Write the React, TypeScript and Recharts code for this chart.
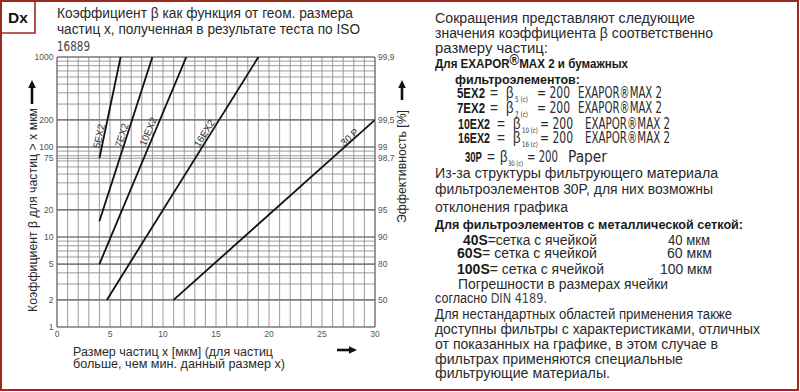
import React from 'react';
import { LineChart, Line, XAxis, YAxis, CartesianGrid, ReferenceLine, ReferenceDot } from 'recharts';

// ---- data ----
const seriesNames = ['5EX2', '7EX2', '10EX2', '16EX2', '30 P'];
const sizes5EX2 = [4, 6];
const beta5EX2 = [75, 1000];
const sizes7EX2 = [4, 9];
const beta7EX2 = [15, 1000];
const sizes10EX2 = [4, 12.2];
const beta10EX2 = [5, 1000];
const sizes16EX2 = [4.7, 19];
const beta16EX2 = [2, 1000];
const sizes30P = [11, 30];
const beta30P = [2, 200];

const xTicks = [0, 1, 2, 3, 4, 5, 6, 7, 8, 9, 10, 11, 12, 13, 14, 15, 16, 17, 18, 19, 20, 21, 22, 23, 24, 25, 26, 27, 28, 29, 30];
const xLabelTicks = [0, 5, 10, 15, 20, 25, 30];
const yGridTicks = [1, 2, 3, 4, 5, 6, 7, 8, 9, 10, 20, 30, 40, 50, 60, 70, 75, 80, 90, 100, 200, 300, 400, 500, 600, 700, 800, 900, 1000];
const yLabelTicks = [1, 2, 5, 10, 20, 75, 100, 200, 1000];
const yMajorLines = [2, 5, 10, 20, 100, 200];
const efficiencyTicks = [2, 5, 10, 20, 75, 100, 200, 1000];
const efficiencyLabels = ['50', '80', '90', '95', '98,7', '99', '99,5', '99,9'];

const labelSizes = [3.95, 6.1, 8.6, 13.9, 27.6];
const labelBetas = [132, 135, 148, 142, 128];
const labelAngles = [-78, -72, -67, -58, -42];

const seriesSizes = [sizes5EX2, sizes7EX2, sizes10EX2, sizes16EX2, sizes30P];
const seriesBetas = [beta5EX2, beta7EX2, beta10EX2, beta16EX2, beta30P];

const series = seriesNames.map((name, i) => ({
  name,
  data: seriesSizes[i].map((x, j) => ({ x, beta: seriesBetas[i][j] })),
}));

// ---- styles ----
const SANS = "'Liberation Sans', Arial, Helvetica, sans-serif";
const NARROW = "'Liberation Sans Narrow', 'DejaVu Sans Condensed', 'Liberation Sans', sans-serif";
const RED = '#9e2a1e';
const TXT = '#2a2a2a';
const TICK = { fontSize: 8.5, fill: '#555', fontFamily: SANS };

const Line1 = ({ x, y, len, children, size = 14, weight = 400, family = SANS, fill = TXT }: any) => (
  <text x={x} y={y} fontSize={size} fontWeight={weight} fontFamily={family} fill={fill}
    textLength={len} lengthAdjust="spacingAndGlyphs">{children}</text>
);

const Formula = ({ y, label, lx, ll, eq1, bx, sub, sx, sl, eq2, el, ex, tail, tl }: any) => (
  <g fontFamily={NARROW} fill={TXT}>
    <text x={lx} y={y} fontSize={15.5} fontWeight={700} fontFamily={SANS} fill="#1a1a1a"
      textLength={ll} lengthAdjust="spacingAndGlyphs">{label}</text>
    <text x={eq1} y={y} fontSize={15} fontFamily={SANS} textLength={8} lengthAdjust="spacingAndGlyphs">=</text>
    <text x={bx} y={y} fontSize={16.5} fontFamily={SANS} textLength={7.5} lengthAdjust="spacingAndGlyphs">β</text>
    <text x={sx} y={y + 4} fontSize={7.5} textLength={sl} lengthAdjust="spacingAndGlyphs">{sub}</text>
    <text x={eq2} y={y} fontSize={16} textLength={el} lengthAdjust="spacingAndGlyphs">= 200</text>
    <text x={ex} y={y} fontSize={16} textLength={tl} lengthAdjust="spacingAndGlyphs">{tail}</text>
  </g>
);

const ArrowUp = ({ x, yTop, yBottom }: any) => (
  <g fill="#111">
    <rect x={x - 1.3} y={yTop + 6} width={2.6} height={yBottom - yTop - 6} />
    <path d={`M ${x - 3.8} ${yTop + 8} L ${x} ${yTop} L ${x + 3.8} ${yTop + 8} Z`} />
  </g>
);

const ArrowRight = ({ y, xLeft, xRight }: any) => (
  <g fill="#111">
    <rect x={xLeft} y={y - 1.3} width={xRight - xLeft - 6} height={2.6} />
    <path d={`M ${xRight - 8} ${y - 3.8} L ${xRight} ${y} L ${xRight - 8} ${y + 3.8} Z`} />
  </g>
);

export default function App() {
  return (
    <div style={{ position: 'absolute', left: 0, top: 0, width: 800, height: 392, background: '#fff' }}>
      <LineChart width={800} height={392} margin={{ top: 57, right: 400, bottom: 45, left: 0 }}>
        <CartesianGrid stroke="#8f8f8f" strokeWidth={0.9} />
        <XAxis
          type="number"
          dataKey="x"
          domain={[0, 30]}
          ticks={xTicks}
          interval={0}
          allowDataOverflow
          height={20}
          tickLine={false}
          tickSize={2}
          tickMargin={2}
          axisLine={{ stroke: '#666' }}
          tick={TICK}
          tickFormatter={(v: number) => (xLabelTicks.includes(v) ? String(v) : '')}
        />
        <YAxis
          type="number"
          scale="log"
          domain={[1, 1000]}
          ticks={yGridTicks}
          interval={0}
          allowDataOverflow
          width={57}
          tickLine={false}
          tickSize={2}
          tickMargin={1.5}
          axisLine={{ stroke: '#666' }}
          tick={TICK}
          tickFormatter={(v: number) => (yLabelTicks.includes(v) ? String(v) : '')}
        />
        <YAxis
          yAxisId="eff"
          orientation="right"
          type="number"
          scale="log"
          domain={[1, 1000]}
          ticks={efficiencyTicks}
          interval={0}
          allowDataOverflow
          width={25}
          tickLine={false}
          tickSize={2}
          tickMargin={1}
          axisLine={{ stroke: '#666' }}
          tick={TICK}
          tickFormatter={(v: number) => efficiencyLabels[efficiencyTicks.indexOf(v)] ?? ''}
        />
        {yMajorLines.map((v) => (
          <ReferenceLine key={v} y={v} stroke="#6a6a6a" strokeWidth={1.1} />
        ))}
        <ReferenceLine y={1000} stroke="#666" strokeWidth={1} />
        {series.map((s) => (
          <Line
            key={s.name}
            data={s.data}
            dataKey="beta"
            name={s.name}
            stroke="#111"
            strokeWidth={1.8}
            dot={false}
            activeDot={false}
            isAnimationActive={false}
            type="linear"
          />
        ))}
        {seriesNames.map((name, i) => (
          <ReferenceDot
            key={'lbl' + name}
            x={labelSizes[i]}
            y={labelBetas[i]}
            r={0}
            shape={(p: any) => (
              <text
                x={p.cx}
                y={p.cy}
                transform={`rotate(${labelAngles[i]}, ${p.cx}, ${p.cy})`}
                textAnchor="middle"
                dominantBaseline="central"
                fontSize={10}
                fontFamily={SANS}
                fill="#333"
              >
                {name}
              </text>
            )}
          />
        ))}
      </LineChart>

      <svg width={800} height={392} style={{ position: 'absolute', left: 0, top: 0, pointerEvents: 'none' }}>
        {/* frame */}
        <rect x={1} y={1} width={797} height={389} fill="none" stroke={RED} strokeWidth={2} />
        <path d="M 35 0 L 35 33 L 0 33" fill="none" stroke={RED} strokeWidth={1.6} />
        <text x={8} y={22.5} fontSize={15.5} fontWeight={700} fontFamily={SANS} fill="#111">Dx</text>

        {/* chart title */}
        <Line1 x={57} y={18} len={296}>Коэффициент β как функция от геом. размера</Line1>
        <Line1 x={57} y={34} len={303}>частиц x, полученная в результате теста по ISO</Line1>
        <Line1 x={57} y={51} len={33} family={NARROW} fill="#444">16889</Line1>

        {/* y axis label */}
        <g transform="translate(36.5, 210) rotate(-90)">
          <text x={0} y={0} textAnchor="middle" fontSize={12.5} fontFamily={SANS} fill={TXT}
            textLength={204} lengthAdjust="spacingAndGlyphs">Коэффициент β для частиц &gt; x мкм</text>
        </g>
        <ArrowUp x={32} yTop={80} yBottom={104} />

        {/* right axis label */}
        <g transform="translate(406, 166.5) rotate(-90)">
          <text x={0} y={0} textAnchor="middle" fontSize={12.5} fontFamily={SANS} fill={TXT}
            textLength={113} lengthAdjust="spacingAndGlyphs">Эффективность [%]</text>
        </g>
        <ArrowUp x={402} yTop={80} yBottom={100} />

        {/* x axis label */}
        <Line1 x={73} y={355.5} len={200} size={12.5}>Размер частиц x [мкм] (для частиц</Line1>
        <Line1 x={73} y={368} len={212} size={12.5}>больше, чем мин. данный размер  x)</Line1>
        <ArrowRight y={350} xLeft={337} xRight={357} />

        {/* right text block */}
        <Line1 x={435} y={23} len={260}>Сокращения представляют следующие</Line1>
        <Line1 x={435} y={38} len={278}>значения коэффициента β соответственно</Line1>
        <Line1 x={435} y={53} len={113}>размеру частиц:</Line1>
        <text x={435} y={67.5} fontSize={12.5} fontWeight={700} fontFamily={SANS} fill="#1a1a1a"
          textLength={193} lengthAdjust="spacingAndGlyphs">
          Для EXAPOR<tspan fontSize={14} dy={-3}>®</tspan><tspan dy={3}>MAX 2 и бумажных</tspan>
        </text>
        <Line1 x={455} y={83.5} len={125} size={12.5} weight={700} fill="#1a1a1a">фильтроэлементов:</Line1>

        <Formula y={97.5} label="5EX2" lx={457} ll={28} eq1={490} bx={506} sub="5 (c)" sx={515} sl={13} eq2={537} el={33} ex={578} tail="EXAPOR®MAX 2" tl={84} />
        <Formula y={112.5} label="7EX2" lx={457} ll={28} eq1={490} bx={506} sub="7 (c)" sx={515} sl={13} eq2={537} el={33} ex={578} tail="EXAPOR®MAX 2" tl={84} />
        <Formula y={128.5} label="10EX2" lx={458} ll={32} eq1={497} bx={513} sub="10 (c)" sx={522} sl={16} eq2={540} el={33} ex={585} tail="EXAPOR®MAX 2" tl={85} />
        <Formula y={142.5} label="16EX2" lx={458} ll={32} eq1={497} bx={513} sub="16 (c)" sx={522} sl={16} eq2={540} el={33} ex={585} tail="EXAPOR®MAX 2" tl={85} />
        <Formula y={162} label="30P" lx={465} ll={17} eq1={487} bx={500} sub="30 (c)" sx={508} sl={15} eq2={527} el={31} ex={568} tail="Paper" tl={39} />

        <Line1 x={435} y={178} len={283}>Из-за структуры фильтрующего материала</Line1>
        <Line1 x={435} y={194} len={278}>фильтроэлементов 30P, для них возможны</Line1>
        <Line1 x={435} y={212} len={133}>отклонения графика</Line1>
        <Line1 x={435} y={228.5} len={308} size={12.5} weight={700} fill="#1a1a1a">Для фильтроэлементов с металлической сеткой:</Line1>

        <text x={463} y={245} fontSize={14} fontFamily={SANS} fill={TXT} textLength={134} lengthAdjust="spacingAndGlyphs">
          <tspan fontWeight={700} fill="#1a1a1a">40S</tspan>=сетка с ячейкой
        </text>
        <Line1 x={668} y={245} len={42}>40 мкм</Line1>
        <text x={457} y={258} fontSize={14} fontFamily={SANS} fill={TXT} textLength={140} lengthAdjust="spacingAndGlyphs">
          <tspan fontWeight={700} fill="#1a1a1a">60S</tspan>= сетка с ячейкой
        </text>
        <Line1 x={667} y={258} len={45}>60 мкм</Line1>
        <text x={457} y={274} fontSize={14} fontFamily={SANS} fill={TXT} textLength={147} lengthAdjust="spacingAndGlyphs">
          <tspan fontWeight={700} fill="#1a1a1a">100S</tspan>= сетка с ячейкой
        </text>
        <Line1 x={660} y={274} len={52}>100 мкм</Line1>

        <Line1 x={458} y={289} len={210}>Погрешности в размерах ячейки</Line1>
        <text x={435} y={303} fontSize={14} fontFamily={SANS} fill={TXT} textLength={112} lengthAdjust="spacingAndGlyphs">
          согласно <tspan fontFamily={NARROW} fill="#444">DIN 4189.</tspan>
        </text>
        <Line1 x={435} y={319} len={297}>Для нестандартных областей применения также</Line1>
        <Line1 x={435} y={334} len={325}>доступны фильтры с характеристиками, отличных</Line1>
        <Line1 x={435} y={349} len={283}>от показанных на графике, в этом случае в</Line1>
        <Line1 x={435} y={364} len={248}>фильтрах применяются специальные</Line1>
        <Line1 x={435} y={378} len={175}>фильтрующие материалы.</Line1>
      </svg>
    </div>
  );
}
